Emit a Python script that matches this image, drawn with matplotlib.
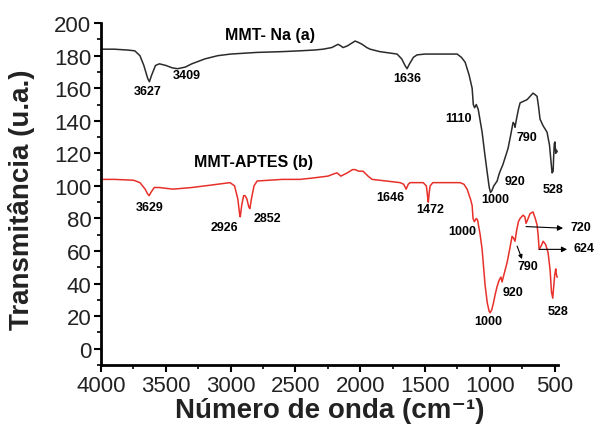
import numpy as np
import matplotlib
matplotlib.use("Agg")
import matplotlib.pyplot as plt
from matplotlib.ticker import MultipleLocator

plt.rcParams['font.family'] = ['Liberation Sans', 'DejaVu Sans']

# MMT-Na (a)
wn_a = [4000, 3900, 3800, 3740, 3700, 3670, 3640, 3627, 3610, 3580, 3550, 3500,
        3450, 3409, 3350, 3300, 3200, 3100, 3000, 2800, 2600, 2464, 2350, 2287,
        2220, 2171, 2150, 2133, 2100, 2060, 2040, 2010, 1986, 1950, 1924, 1850,
        1760, 1716, 1680, 1655, 1639, 1620, 1590, 1562, 1500, 1384, 1300, 1253,
        1220, 1191, 1160, 1137, 1128, 1118, 1105, 1090, 1075, 1060, 1040, 1022,
        1005, 995, 985, 970, 944, 930, 921, 900, 880, 860, 840, 821, 812, 806,
        795, 780, 767, 740, 713, 690, 667, 650, 636, 625, 613, 590, 559, 540,
        525, 520, 512, 508, 503, 498, 492, 487, 481]
t_a = [184, 184, 183.5, 183, 180, 174, 166, 164, 168, 174, 175, 174,
       172.5, 172, 173, 175, 178, 180, 181, 182, 182.5, 183, 183.5, 184,
       185, 187, 186, 185, 186, 188, 189, 188, 187, 185, 184, 182.5,
       181.5, 181, 178, 174, 172, 175, 179, 180.5, 181, 181, 181, 181,
       179, 176, 168, 160, 150, 148, 150, 147, 140, 133, 120, 109,
       99, 96, 97, 100, 103, 107, 109, 113, 118, 123, 131, 139, 138, 136,
       141, 147, 151, 152, 153, 155, 157, 156, 155, 149, 141, 137, 133, 125,
       112, 108, 109, 118, 126, 127, 120, 122, 121]

# MMT-APTES (b)
wn_b = [4000, 3900, 3750, 3700, 3660, 3640, 3629, 3615, 3590, 3550, 3500, 3444,
        3300, 3150, 3005, 2970, 2945, 2930, 2926, 2915, 2900, 2889, 2875, 2860,
        2852, 2840, 2820, 2796, 2700, 2600, 2464, 2350, 2250, 2200, 2179, 2150,
        2100, 2060, 2040, 2010, 1978, 1940, 1909, 1800, 1693, 1665, 1646, 1630,
        1616, 1515, 1490, 1480, 1475, 1468, 1461, 1440, 1361, 1230, 1200, 1176,
        1150, 1137, 1130, 1120, 1105, 1095, 1075, 1060, 1037, 1020, 1006, 998,
        985, 970, 960, 945, 929, 915, 906, 890, 867, 845, 829, 818, 806, 795,
        780, 767, 744, 730, 721, 710, 690, 667, 650, 636, 628, 620, 605, 589,
        570, 551, 535, 525, 515, 510, 500, 492, 488, 481]
t_b = [104, 104, 103.5, 102, 98, 95, 94, 96, 99, 99, 98.5, 98,
       99, 100.5, 102, 100, 92, 82, 81, 88, 94, 94, 92, 87,
       86, 92, 100, 103, 103.5, 104, 104, 105, 106, 107.5, 108, 106,
       108, 110, 110, 109, 109, 106, 104, 103, 102, 101, 98, 101,
       102, 102, 100, 93, 90, 96, 100, 102, 102, 102, 101, 98,
       92, 88, 80, 78, 80, 79, 70, 61, 39, 28, 23, 22,
       24, 29, 33, 38, 42, 44, 41, 46, 53, 62, 69, 68, 66, 72,
       78, 80, 82, 81, 77, 79, 83, 84, 80, 76, 70, 61, 63, 66,
       64, 59, 48, 35, 31, 36, 45, 49, 46, 44]

# peak labels (text, x, y)
labels_a = [("3627", 3637, 158), ("3409", 3336, 168), ("1636", 1639, 166),
            ("1110", 1245, 142), ("790", 713, 130), ("920", 806, 103),
            ("1000", 960, 92), ("528", 512, 98)]
labels_b = [("3629", 3622, 87), ("2926", 3051, 75), ("2852", 2719, 80),
            ("1646", 1770, 93), ("1472", 1461, 86), ("1000", 1214, 72),
            ("920", 821, 35), ("1000", 1014, 17), ("528", 474, 23),
            ("790", 705, 51)]
arrows_b = [("720", 721, 75, 435, 74, 296, 75), ("624", 620, 61, 404, 61, 274, 62)]

fig = plt.figure(figsize=(5.98, 4.31), dpi=100)
ax = fig.add_axes([0.169, 0.151, 0.764, 0.793])

ax.plot(wn_a, t_a, color="#2b2b2b", lw=1.1)
ax.plot(wn_b, t_b, color="#e8302a", lw=1.1)

ax.set_xlim(4000, 475)
ax.set_ylim(-10, 200)
ax.xaxis.set_major_locator(MultipleLocator(500))
ax.xaxis.set_minor_locator(MultipleLocator(250))
ax.yaxis.set_major_locator(MultipleLocator(20))
ax.yaxis.set_minor_locator(MultipleLocator(10))
ax.set_yticks(range(0, 201, 20))

for s in ["top", "right"]:
    ax.spines[s].set_visible(False)
for s in ["left", "bottom"]:
    ax.spines[s].set_linewidth(2)
ax.spines["left"].set_bounds(-10, 200)

ax.tick_params(which="major", length=5, width=1.5, labelsize=16, pad=2,
               labelcolor="#222222")
ax.tick_params(which="minor", length=3, width=1.2)

ax.set_xlabel("Número de onda (cm⁻¹)", fontsize=20, fontweight="bold",
              labelpad=1, color="#222222")
ax.set_ylabel("Transmitância (u.a.)", fontsize=20, fontweight="bold",
              color="#222222")
ax.yaxis.set_label_coords(-0.145, 0.485)

ax.text(2696, 193, "MMT- Na (a)", fontsize=11.5, fontweight="bold",
        ha="center", va="center")
ax.text(2827, 115, "MMT-APTES (b)", fontsize=11.5, fontweight="bold",
        ha="center", va="center")

for txt, x, y in labels_a + labels_b:
    ax.text(x, y, txt, fontsize=9, fontweight="bold", ha="center", va="center",
            clip_on=False)

for txt, x0, y0, x1, y1, xt, yt in arrows_b:
    ax.annotate("", xy=(x1, y1), xytext=(x0, y0),
                arrowprops=dict(arrowstyle="-|>", color="black", lw=0.8,
                                mutation_scale=8, shrinkA=0, shrinkB=0),
                annotation_clip=False)
    ax.text(xt, yt, txt, fontsize=9, fontweight="bold", ha="center",
            va="center", clip_on=False)

ax.annotate("", xy=(752, 55), xytext=(790, 63),
            arrowprops=dict(arrowstyle="-|>", color="black", lw=0.8,
                            mutation_scale=6, shrinkA=0, shrinkB=0))

fig.savefig("out.png", dpi=100)
